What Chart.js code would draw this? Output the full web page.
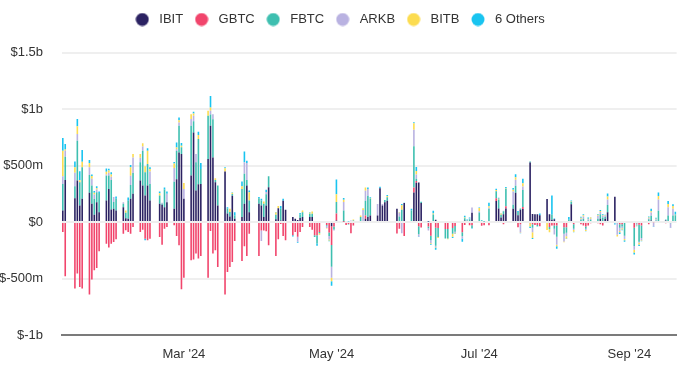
<!DOCTYPE html>
<html><head><meta charset="utf-8">
<script src="https://cdn.jsdelivr.net/npm/chart.js@4.4.1/dist/chart.umd.min.js"></script>
<style>html,body{margin:0;padding:0;background:#fff;}#wrap{width:688px;height:368px;}</style>
</head><body><div id="wrap"><canvas id="c" width="688" height="368"></canvas></div>
<script>
const year = 2024;
const firstDay = '01-11';
const lastDay = '09-20';
const tradingDays = [
'01-11','01-12','01-16','01-17','01-18','01-19','01-22','01-23','01-24','01-25','01-26','01-29','01-30','01-31',
'02-01','02-02','02-05','02-06','02-07','02-08','02-09','02-12','02-13','02-14','02-15','02-16','02-20','02-21','02-22','02-23','02-26','02-27','02-28','02-29',
'03-01','03-04','03-05','03-06','03-07','03-08','03-11','03-12','03-13','03-14','03-15','03-18','03-19','03-20','03-21','03-22','03-25','03-26','03-27','03-28',
'04-01','04-02','04-03','04-04','04-05','04-08','04-09','04-10','04-11','04-12','04-15','04-16','04-17','04-18','04-19','04-22','04-23','04-24','04-25','04-26','04-29','04-30',
'05-01','05-02','05-03','05-06','05-07','05-08','05-09','05-10','05-13','05-14','05-15','05-16','05-17','05-20','05-21','05-22','05-23','05-24','05-28','05-29','05-30','05-31',
'06-03','06-04','06-05','06-06','06-07','06-10','06-11','06-12','06-13','06-14','06-17','06-18','06-20','06-21','06-24','06-25','06-26','06-27','06-28',
'07-01','07-02','07-03','07-05','07-08','07-09','07-10','07-11','07-12','07-15','07-16','07-17','07-18','07-19','07-22','07-23','07-24','07-25','07-26','07-29','07-30','07-31',
'08-01','08-02','08-05','08-06','08-07','08-08','08-09','08-12','08-13','08-14','08-15','08-16','08-19','08-20','08-21','08-22','08-23','08-26','08-27','08-28','08-29','08-30',
'09-03','09-04','09-05','09-06','09-09','09-10','09-11','09-12','09-13','09-16','09-17','09-18','09-19','09-20'];

// daily net flows, $m
const IBIT = [
103,373,212,368,147,206,259,162,65,176,88,191,294,112,
118,103,132,35,29,206,250,368,323,235,323,191,162,153,132,176,118,380,617,603,
206,412,794,279,336,338,559,853,573,353,147,447,75,49,233,29,44,162,323,88,
162,147,44,147,309,25,123,15,188,109,44,29,18,37,44,44,44,0,0,0,0,0,
-37,0,13,0,0,0,0,0,0,0,29,44,58,58,300,146,175,190,117,0,0,169,
0,263,349,350,168,6,0,0,20,0,0,0,0,0,0,15,10,0,82,
0,0,0,0,187,121,40,70,120,117,260,60,110,116,527,72,70,70,60,205,70,21,
26,0,0,0,0,157,0,0,0,0,0,0,0,30,0,30,87,224,0,0,0,0,
0,0,0,0,0,15,0,0,0,15,0,0,0,0];
const GBTC = [
-88,-479,-588,-456,-574,-588,-641,-509,-426,-406,-259,-191,-226,-191,
-176,-153,-103,-73,-88,-103,-44,-88,-68,-147,-162,-147,-132,-200,-59,-44,-29,-123,-206,-594,
-494,-338,-332,-279,-323,-300,-494,-79,-279,-250,-397,-641,-441,-397,-353,-168,-344,-215,-300,-103,
-300,-74,-74,-82,-206,-300,-153,-18,-123,-162,-117,-88,-131,-88,-44,-44,-67,-117,-117,-88,-25,-93,
-167,-40,63,4,-25,-16,-100,-30,0,0,29,0,0,0,0,0,0,0,-102,-60,0,-123,
0,44,15,-37,-48,-40,-121,0,-50,-52,-62,-62,-53,-34,-90,-25,0,-29,-27,
0,-32,-27,-28,25,0,0,-20,20,0,0,-45,-20,18,-10,-20,-26,-26,-38,0,-44,-30,
-30,-30,-46,-45,0,0,-20,-20,-30,-40,-30,-10,-10,-20,-30,0,0,0,0,-20,-20,0,
-50,-10,-24,-30,-20,0,-5,0,0,-10,0,0,0,0];
const FBTC = [
235,206,106,353,206,279,159,162,140,88,170,220,118,260,
59,103,30,47,160,123,185,162,309,206,191,147,74,10,156,0,240,250,235,59,
0,441,100,250,400,132,382,100,338,20,176,0,45,40,15,30,250,265,50,103,
50,44,118,100,97,40,0,103,0,0,0,0,0,30,44,29,29,-15,-73,-10,-7,-30,
-191,-25,102,99,0,-5,10,15,44,0,131,190,150,0,0,0,20,30,0,50,110,0,
102,365,20,-70,10,-15,-40,68,-160,-80,-84,-83,-51,-52,-35,20,5,25,-25,
85,15,5,117,61,80,25,25,155,36,61,30,10,150,10,-30,0,-10,0,0,-20,44,
-30,-100,-58,-50,20,20,-40,20,30,-20,15,20,30,40,40,15,64,0,-10,-30,-20,-120,
-162,-5,-150,-110,25,40,0,15,100,5,58,-10,58,60];
const ARKB = [
68,53,118,59,0,0,68,59,40,24,0,10,24,30,
44,0,14,0,0,82,138,40,38,0,0,109,0,8,0,74,120,15,29,0,
88,60,47,74,0,0,0,32,44,0,0,0,0,0,0,0,0,103,150,0,
0,-94,0,20,0,0,0,0,0,0,0,0,-44,0,0,0,0,0,0,0,-20,-31,
-98,-10,0,75,0,0,5,0,0,108,88,58,0,102,0,15,0,0,0,30,-100,0,
0,146,38,-20,0,-20,-25,0,-10,0,0,0,0,-10,-20,0,3,6,48,
10,0,0,10,0,0,0,5,0,117,53,0,-72,30,0,-40,0,0,0,0,0,0,
-50,-70,-69,-30,0,0,-10,10,20,-10,10,10,25,20,15,10,50,-10,-102,-30,-15,-30,
-33,-10,-10,-20,10,30,-35,10,100,0,73,-40,60,0];
const BITB = [
226,10,50,68,18,50,38,24,15,12,0,24,21,20,
0,0,0,21,0,74,29,34,29,53,118,24,20,0,0,0,40,15,20,15,
53,43,20,0,35,0,44,29,0,15,0,29,0,29,12,0,24,0,0,73,
0,0,20,0,0,20,20,0,0,0,0,0,0,0,15,10,20,0,0,-15,-5,-10,
-30,0,68,20,0,0,0,8,15,15,29,0,5,0,0,0,0,10,0,5,40,0,
0,58,30,0,0,0,-5,8,-5,-8,0,-8,-26,-5,0,5,0,0,0,
30,0,0,13,10,5,10,0,5,17,24,0,-5,30,-30,-50,0,0,0,-70,-25,0,
0,-15,-5,-20,0,5,-15,8,10,-10,5,10,10,8,5,5,25,0,-15,-10,-10,-10,
-25,-5,-15,-5,5,10,0,5,30,0,29,0,25,5];
const OTHERS = [
112,50,50,65,79,103,26,15,15,18,12,29,15,20,
0,21,0,0,29,21,0,0,0,-15,21,15,14,0,18,21,15,45,25,24,
0,0,15,0,29,53,0,103,0,0,0,9,12,0,5,29,41,94,20,15,
10,15,0,20,0,5,0,24,18,0,-10,0,-8,14,0,5,0,0,-20,0,0,-5,
-40,0,132,15,0,5,0,0,0,0,0,15,6,0,12,0,0,10,0,2,10,3,
15,9,36,-6,1,4,-9,25,-20,0,0,0,-10,-5,-30,16,4,10,-5,
5,3,2,31,12,10,4,0,10,14,25,8,-3,40,-12,-10,0,-3,15,0,0,170,
5,-22,10,-4,25,10,-5,10,10,-1,11,3,7,10,9,5,26,-11,0,-15,-7,-15,
-18,-7,-12,-5,9,22,-3,9,33,3,27,-3,15,27];

const seriesNames = ['IBIT','GBTC','FBTC','ARKB','BITB','6 Others'];
const seriesValues = [IBIT, GBTC, FBTC, ARKB, BITB, OTHERS];
const seriesColors = ['#2b2262','#f1456c','#3ebfb0','#b9b2e1','#fcdc50','#19c4f0'];
const monthTickLabels = {'03-01':"Mar '24",'05-01':"May '24",'07-01':"Jul '24",'09-01':"Sep '24"};
const yMin = -1000, yMax = 1500, yStep = 500;

// build a calendar-day category axis so spacing follows time
const pad = n => String(n).padStart(2,'0');
const calendar = [];
{
  const [m0,d0] = firstDay.split('-').map(Number);
  const [m1,d1] = lastDay.split('-').map(Number);
  let t = Date.UTC(year, m0-1, d0);
  const end = Date.UTC(year, m1-1, d1);
  while (t <= end) { const dt = new Date(t); calendar.push(pad(dt.getUTCMonth()+1)+'-'+pad(dt.getUTCDate())); t += 86400000; }
}
const dayIndex = {}; tradingDays.forEach((d,i)=>dayIndex[d]=i);

function dot(color){
  const c = document.createElement('canvas'); c.width = 14; c.height = 14;
  const g = c.getContext('2d'); g.fillStyle = color; g.beginPath(); g.arc(7,7,6.5,0,Math.PI*2); g.fill();
  return c;
}

const FONT = "'Liberation Sans', Arial, sans-serif";
Chart.defaults.font.family = FONT;
Chart.defaults.color = '#333';

const datasets = seriesNames.map((name,k)=>({
  label: name,
  data: calendar.map(d => dayIndex[d] === undefined ? null : seriesValues[k][dayIndex[d]]),
  backgroundColor: seriesColors[k],
  borderWidth: 0,
  barPercentage: 0.66,
  categoryPercentage: 1.0,
  pointStyle: dot(seriesColors[k])
}));

const legendSpace = {
  id: 'legendSpace',
  beforeInit(chart){
    const fit = chart.legend.fit;
    chart.legend.fit = function(){ fit.bind(chart.legend)(); this.height += 16.7; };
  }
};

new Chart(document.getElementById('c'), {
  type: 'bar',
  data: { labels: calendar, datasets },
  plugins: [legendSpace],
  options: {
    responsive: false,
    animation: false,
    layout: { padding: { top: 5, right: 11.4, bottom: 0, left: 0 } },
    plugins: {
      legend: {
        position: 'top', align: 'center',
        labels: { usePointStyle: true, pointStyleWidth: 21, boxHeight: 13, padding: 8,
                  font: { size: 13, family: FONT }, color: '#333' }
      },
      tooltip: { enabled: false }
    },
    scales: {
      x: {
        stacked: true,
        grid: { display: false, drawTicks: false },
        border: { display: true, color: '#7b7b7b', width: 2 },
        afterFit(s){ s.height = 33; },
        ticks: {
          autoSkip: false, maxRotation: 0, minRotation: 0, padding: 12,
          font: { size: 13, family: FONT }, color: '#333',
          callback: (v, i) => monthTickLabels[calendar[i]] ?? null
        }
      },
      y: {
        stacked: true, min: yMin, max: yMax,
        grid: { color: '#efefef', lineWidth: 2, drawTicks: false },
        border: { display: false },
        afterFit(s){ s.width = 61.6; },
        ticks: {
          stepSize: yStep, padding: 18.6,
          font: { size: 13, family: FONT }, color: '#333',
          callback: v => v === 0 ? '$0' : (Math.abs(v) >= 1000 ? '$' + (v/1000) + 'b' : '$' + v + 'm')
        }
      }
    }
  }
});
</script></body></html>
